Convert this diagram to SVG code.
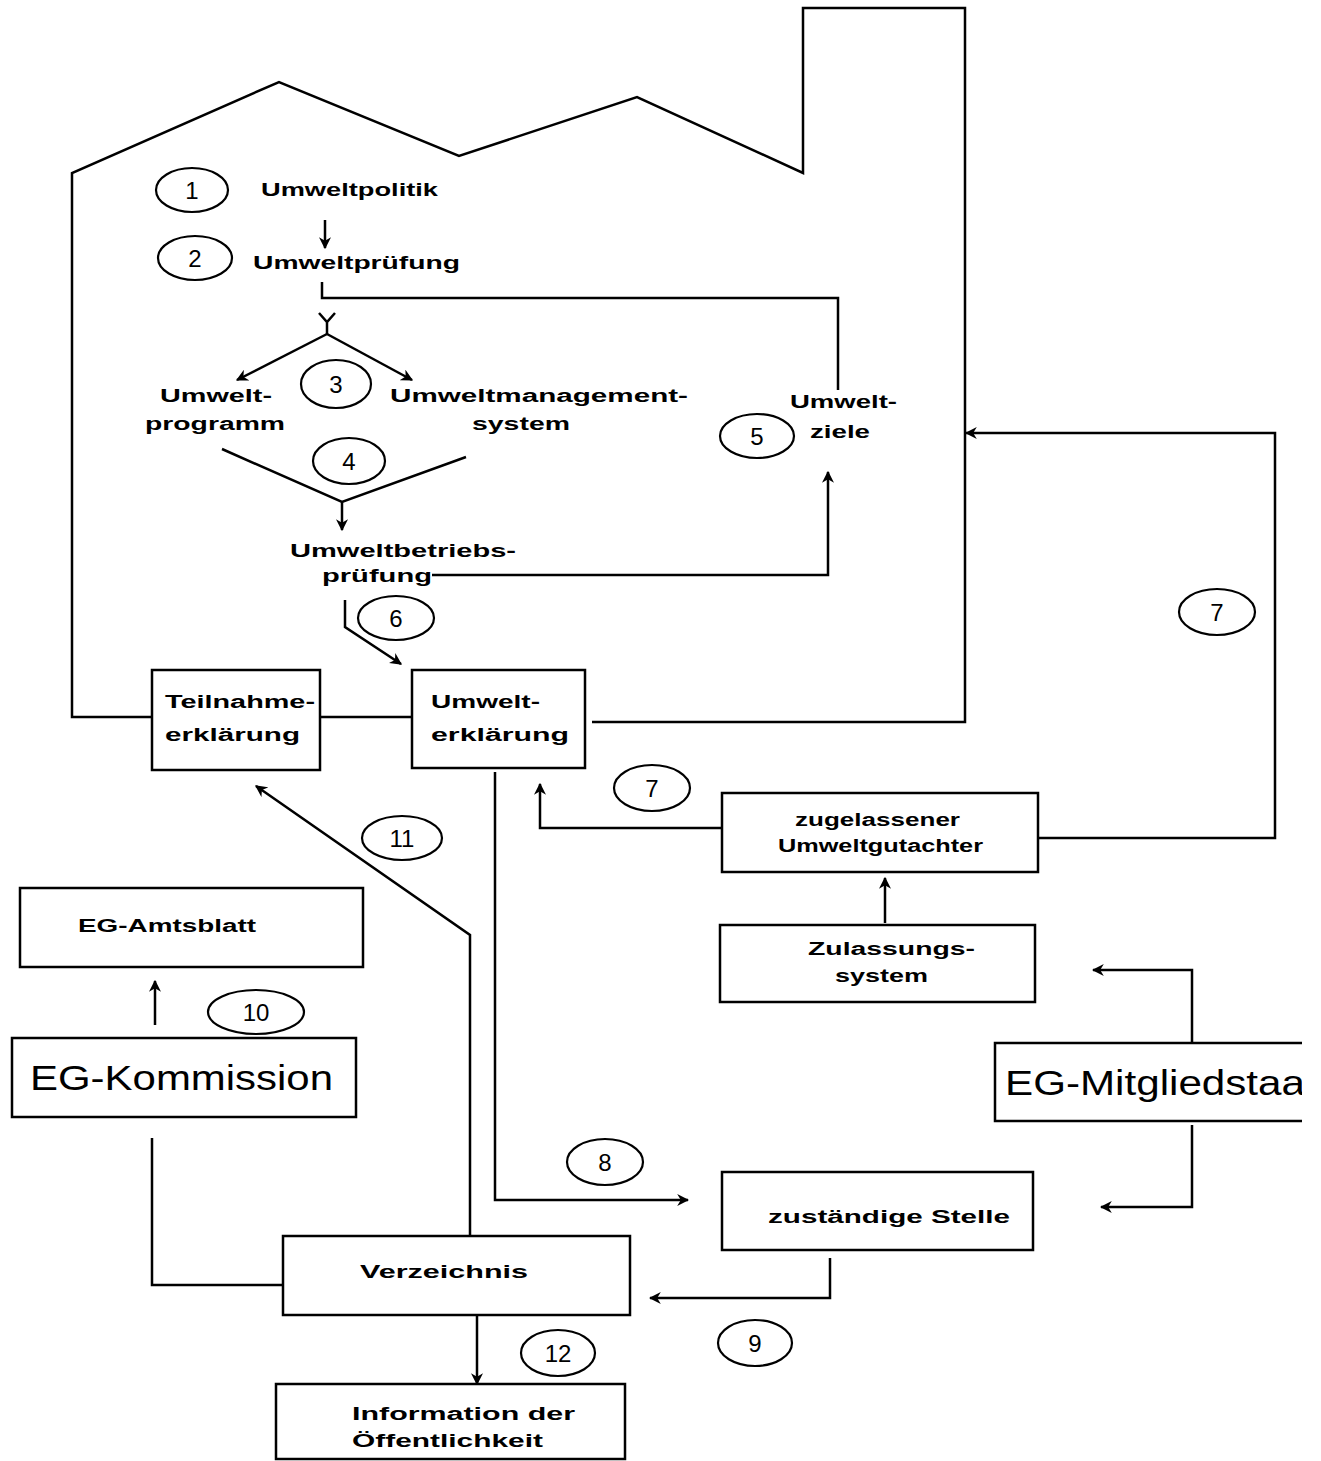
<svg xmlns="http://www.w3.org/2000/svg" width="1321" height="1461" viewBox="0 0 1321 1461">
<defs>
<style>
.ln{fill:none;stroke:#000;stroke-width:2.5;stroke-linejoin:miter}
.bx{fill:#fff;stroke:#000;stroke-width:2.5}
.el{fill:#fff;stroke:#000;stroke-width:2.2}
.t{font-family:"Liberation Sans",Arial,sans-serif;font-weight:bold;font-size:18px;fill:#000}
.n{font-family:"Liberation Sans",Arial,sans-serif;font-size:24px;fill:#000;text-anchor:middle}
.big{font-family:"Liberation Sans",Arial,sans-serif;font-size:35px;fill:#000}
</style>
<marker id="ah" viewBox="0 0 10 10" refX="9" refY="5" markerWidth="12" markerHeight="12" markerUnits="userSpaceOnUse" orient="auto">
<path d="M0,0 L10,5 L0,10 L3,5 Z" fill="#000"/>
</marker>
<clipPath id="edge"><rect x="0" y="0" width="1302" height="1461"/></clipPath>
</defs>
<rect width="1321" height="1461" fill="#fff"/>

<g id="factory">
<path class="ln" d="M152,717 H72 V173 L279,82 L459,156 L637,97 L803,173 V8 H965 V722 H592"/>
<line class="ln" x1="321" y1="717" x2="412" y2="717"/>
</g>

<g id="connectors">
<line class="ln" x1="325" y1="220" x2="325" y2="248" marker-end="url(#ah)"/>
<path class="ln" d="M322,282 V298 H838 V390"/>
<path class="ln" d="M319,313 L327,322 L335,313 M327,322 V334"/>
<line class="ln" x1="327" y1="334" x2="237" y2="380" marker-end="url(#ah)"/>
<line class="ln" x1="327" y1="334" x2="412" y2="380" marker-end="url(#ah)"/>
<path class="ln" d="M222,449 L342,502 L466,457"/>
<line class="ln" x1="342" y1="502" x2="342" y2="530" marker-end="url(#ah)"/>
<path class="ln" d="M432,575 H828 V472" marker-end="url(#ah)"/>
<path class="ln" d="M345,600 V627 L401,664" marker-end="url(#ah)"/>
<path class="ln" d="M722,828 H540 V784" marker-end="url(#ah)"/>
<path class="ln" d="M1038,838 H1275 V433 H966" marker-end="url(#ah)"/>
<line class="ln" x1="885" y1="923" x2="885" y2="878" marker-end="url(#ah)"/>
<path class="ln" d="M1192,1043 V970 H1093" marker-end="url(#ah)"/>
<path class="ln" d="M1192,1125 V1207 H1101" marker-end="url(#ah)"/>
<path class="ln" d="M495,772 V1200 H688" marker-end="url(#ah)"/>
<path class="ln" d="M830,1258 V1298 H650" marker-end="url(#ah)"/>
<path class="ln" d="M283,1285 H152 V1138"/>
<path class="ln" d="M470,1236 V935 L256,786" marker-end="url(#ah)"/>
<line class="ln" x1="155" y1="1025" x2="155" y2="981" marker-end="url(#ah)"/>
<line class="ln" x1="477" y1="1315" x2="477" y2="1384" marker-end="url(#ah)"/>
</g>

<g id="step1"><ellipse class="el" cx="192" cy="190" rx="36" ry="22"/><text class="n" x="192" y="199">1</text>
<text class="t" x="261" y="196" textLength="177" lengthAdjust="spacingAndGlyphs">Umweltpolitik</text></g>
<g id="step2"><ellipse class="el" cx="195" cy="258" rx="37" ry="22"/><text class="n" x="195" y="267">2</text>
<text class="t" x="253" y="269" textLength="207" lengthAdjust="spacingAndGlyphs">Umweltprüfung</text></g>
<g id="step3"><ellipse class="el" cx="336" cy="384" rx="35" ry="24"/><text class="n" x="336" y="393">3</text>
<text class="t" x="160" y="402" textLength="112" lengthAdjust="spacingAndGlyphs">Umwelt-</text>
<text class="t" x="145" y="430" textLength="140" lengthAdjust="spacingAndGlyphs">programm</text>
<text class="t" x="390" y="402" textLength="298" lengthAdjust="spacingAndGlyphs">Umweltmanagement-</text>
<text class="t" x="472" y="430" textLength="98" lengthAdjust="spacingAndGlyphs">system</text></g>
<g id="step4"><ellipse class="el" cx="349" cy="461" rx="36" ry="23"/><text class="n" x="349" y="470">4</text>
<text class="t" x="290" y="557" textLength="226" lengthAdjust="spacingAndGlyphs">Umweltbetriebs-</text>
<text class="t" x="322" y="582" textLength="110" lengthAdjust="spacingAndGlyphs">prüfung</text></g>
<g id="step5"><ellipse class="el" cx="757" cy="436" rx="37" ry="22"/><text class="n" x="757" y="445">5</text>
<text class="t" x="790" y="408" textLength="107" lengthAdjust="spacingAndGlyphs">Umwelt-</text>
<text class="t" x="810" y="438" textLength="60" lengthAdjust="spacingAndGlyphs">ziele</text></g>
<g id="step6"><ellipse class="el" cx="396" cy="618" rx="38" ry="22"/><text class="n" x="396" y="627">6</text></g>
<g id="teilnahme"><rect class="bx" x="152" y="670" width="168" height="100"/>
<text class="t" x="165" y="708" textLength="150" lengthAdjust="spacingAndGlyphs">Teilnahme-</text>
<text class="t" x="165" y="741" textLength="135" lengthAdjust="spacingAndGlyphs">erklärung</text></g>
<g id="umwelterklaerung"><rect class="bx" x="412" y="670" width="173" height="98"/>
<text class="t" x="431" y="708" textLength="109" lengthAdjust="spacingAndGlyphs">Umwelt-</text>
<text class="t" x="431" y="741" textLength="138" lengthAdjust="spacingAndGlyphs">erklärung</text></g>
<g id="step7a"><ellipse class="el" cx="1217" cy="612" rx="38" ry="23"/><text class="n" x="1217" y="621">7</text></g>
<g id="step7b"><ellipse class="el" cx="652" cy="788" rx="38" ry="23"/><text class="n" x="652" y="797">7</text></g>
<g id="gutachter"><rect class="bx" x="722" y="793" width="316" height="79"/>
<text class="t" x="795" y="826" textLength="165" lengthAdjust="spacingAndGlyphs">zugelassener</text>
<text class="t" x="778" y="852" textLength="205" lengthAdjust="spacingAndGlyphs">Umweltgutachter</text></g>
<g id="step11"><ellipse class="el" cx="402" cy="838" rx="40" ry="22"/><text class="n" x="402" y="847">11</text></g>
<g id="amtsblatt"><rect class="bx" x="20" y="888" width="343" height="79"/>
<text class="t" x="78" y="932" textLength="178" lengthAdjust="spacingAndGlyphs">EG-Amtsblatt</text></g>
<g id="zulassung"><rect class="bx" x="720" y="925" width="315" height="77"/>
<text class="t" x="808" y="955" textLength="167" lengthAdjust="spacingAndGlyphs">Zulassungs-</text>
<text class="t" x="835" y="982" textLength="93" lengthAdjust="spacingAndGlyphs">system</text></g>
<g id="step10"><ellipse class="el" cx="256" cy="1012" rx="48" ry="22"/><text class="n" x="256" y="1021">10</text></g>
<g id="kommission"><rect class="bx" x="12" y="1038" width="344" height="79"/>
<text class="big" x="30" y="1090" textLength="303" lengthAdjust="spacingAndGlyphs">EG-Kommission</text></g>
<g id="mitgliedstaat" clip-path="url(#edge)"><path class="bx" d="M1330,1043 H995 V1121 H1330"/>
<text class="big" x="1005" y="1095" textLength="300" lengthAdjust="spacingAndGlyphs">EG-Mitgliedstaa</text></g>
<g id="step8"><ellipse class="el" cx="605" cy="1162" rx="38" ry="23"/><text class="n" x="605" y="1171">8</text></g>
<g id="stelle"><rect class="bx" x="722" y="1172" width="311" height="78"/>
<text class="t" x="768" y="1223" textLength="242" lengthAdjust="spacingAndGlyphs">zuständige Stelle</text></g>
<g id="verzeichnis"><rect class="bx" x="283" y="1236" width="347" height="79"/>
<text class="t" x="360" y="1278" textLength="168" lengthAdjust="spacingAndGlyphs">Verzeichnis</text></g>
<g id="step9"><ellipse class="el" cx="755" cy="1343" rx="37" ry="23"/><text class="n" x="755" y="1352">9</text></g>
<g id="step12"><ellipse class="el" cx="558" cy="1353" rx="37" ry="23"/><text class="n" x="558" y="1362">12</text></g>
<g id="information"><rect class="bx" x="276" y="1384" width="349" height="75"/>
<text class="t" x="352" y="1420" textLength="223" lengthAdjust="spacingAndGlyphs">Information der</text>
<text class="t" x="352" y="1447" textLength="191" lengthAdjust="spacingAndGlyphs">Öffentlichkeit</text></g>
</svg>
